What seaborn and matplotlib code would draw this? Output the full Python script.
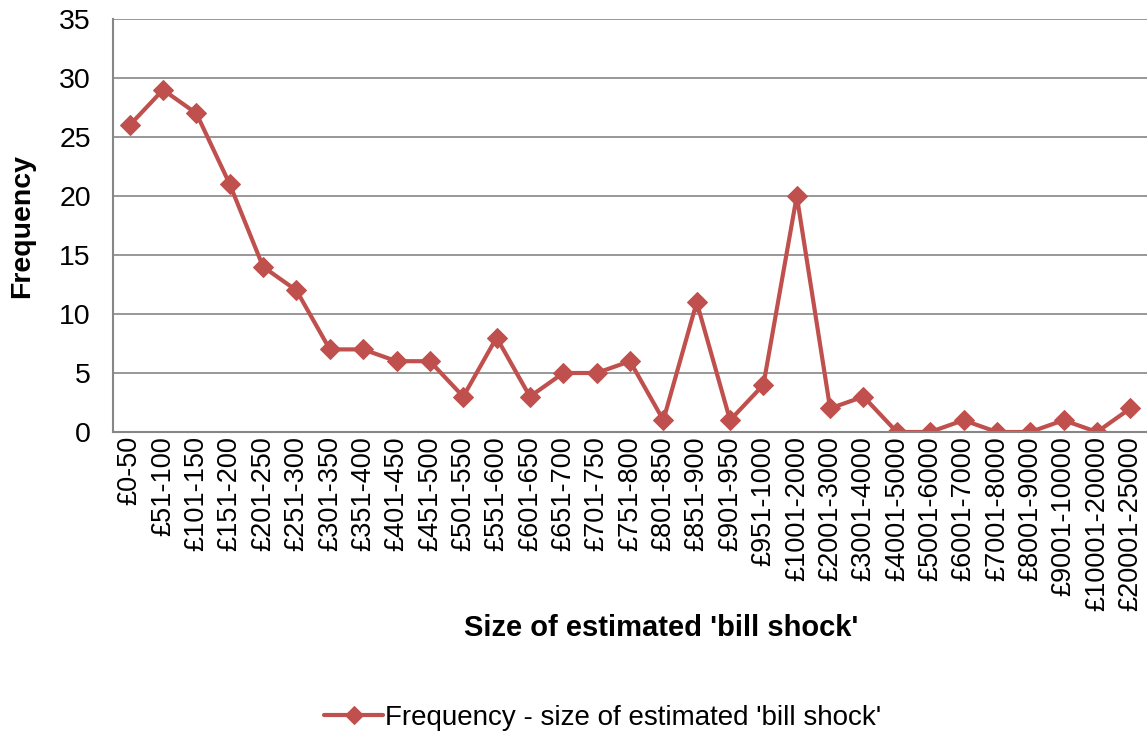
import matplotlib
matplotlib.use("Agg")
import matplotlib.pyplot as plt
import seaborn as sns
import pandas as pd

bands = ["£0-50", "£51-100", "£101-150", "£151-200", "£201-250", "£251-300",
         "£301-350", "£351-400", "£401-450", "£451-500", "£501-550", "£551-600",
         "£601-650", "£651-700", "£701-750", "£751-800", "£801-850", "£851-900",
         "£901-950", "£951-1000", "£1001-2000", "£2001-3000", "£3001-4000",
         "£4001-5000", "£5001-6000", "£6001-7000", "£7001-8000", "£8001-9000",
         "£9001-10000", "£10001-20000", "£20001-25000"]
frequency = [26, 29, 27, 21, 14, 12, 7, 7, 6, 6, 3, 8, 3, 5, 5, 6, 1, 11, 1, 4,
             20, 2, 3, 0, 0, 1, 0, 0, 1, 0, 2]
y_ticks = [0, 5, 10, 15, 20, 25, 30, 35]
series_name = "Frequency - size of estimated 'bill shock'"

sns.set_style("white")
plt.rcParams["font.family"] = ["Liberation Sans", "DejaVu Sans"]
plt.rcParams["text.color"] = "black"
plt.rcParams["axes.labelcolor"] = "black"
plt.rcParams["xtick.color"] = "black"
plt.rcParams["ytick.color"] = "black"

df = pd.DataFrame({"pos": range(len(bands)), "freq": frequency})

W, H = 1147, 735
fig = plt.figure(figsize=(W / 100, H / 100), dpi=100)
ax = fig.add_axes([113 / W, 1 - 432 / H, (1147 - 113) / W, (432 - 19) / H])

line_color = "#C0504D"
sns.lineplot(data=df, x="pos", y="freq", ax=ax, color=line_color, linewidth=3,
             marker="D", markersize=10.5, markeredgecolor=line_color,
             label=series_name, sort=False)

ax.set_xlim(-0.5, len(bands) - 0.5)
ax.set_ylim(0, 35)
ax.set_yticks(y_ticks)
ax.set_yticklabels([str(t) for t in y_ticks], fontsize=20.5)
ax.set_xticks(range(len(bands)))
ax.set_xticklabels(bands, rotation=90, fontsize=19.5)
ax.tick_params(axis="both", length=0)
ax.tick_params(axis="x", pad=3)
ax.tick_params(axis="y", pad=16)

ax.grid(axis="y", color="#868686", linewidth=1.2)
ax.set_axisbelow(True)
for side in ["top", "right"]:
    ax.spines[side].set_visible(False)
for side in ["left", "bottom"]:
    ax.spines[side].set_color("#868686")
    ax.spines[side].set_linewidth(1.5)

ax.set_xlabel("Size of estimated 'bill shock'", fontsize=21, fontweight="bold")
ax.xaxis.set_label_coords((661 - 113) / (1147 - 113), (432 - 628) / (432 - 19))
ax.xaxis.label.set_verticalalignment("center")
ax.set_ylabel("Frequency", fontsize=20.5, fontweight="bold")
ax.yaxis.set_label_coords((22 - 113) / (1147 - 113), 0.5)
ax.yaxis.label.set_verticalalignment("center")

ax.legend(loc="center", bbox_to_anchor=(603 / W, 1 - 718 / H),
          bbox_transform=fig.transFigure, frameon=False, fontsize=20,
          handlelength=2.1, handletextpad=0.1, markerscale=0.9)

fig.savefig("out.png", dpi=100)
